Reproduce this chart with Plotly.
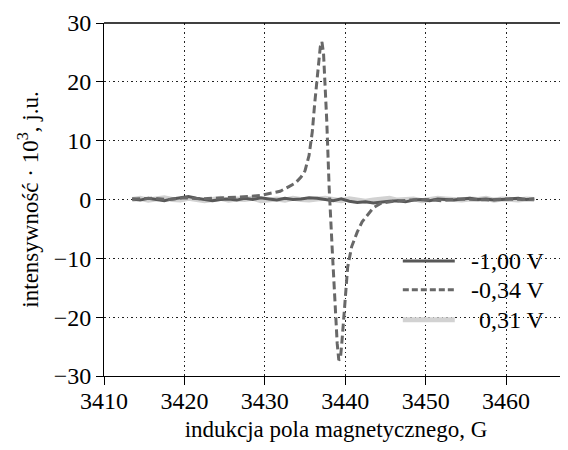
import plotly.graph_objects as go

# -1.00 V and 0.31 V: flat noisy baselines
base_x = [3413.5 + i for i in range(51)]
v100_y = [0.1, -0.1, 0.2, 0.0, -0.2, 0.1, 0.3, 0.5, 0.2, 0.0,
          -0.2, 0.0, 0.1, -0.1, 0.2, 0.0, 0.3, 0.1, -0.1, 0.2,
          0.0, 0.1, 0.3, 0.2, 0.0, -0.2, 0.1, -0.3, -0.5, -0.4,
          -0.6, -0.4, -0.3, -0.2, -0.4, -0.1, 0.0, -0.2, 0.1, 0.0,
          -0.1, 0.1, 0.2, 0.0, 0.1, -0.1, 0.0, 0.1, 0.2, 0.0, 0.1]
v031_y = [0.0, 0.2, -0.1, 0.1, 0.3, 0.0, -0.1, 0.2, 0.1, -0.2,
          0.0, 0.2, -0.1, 0.1, 0.0, 0.2, -0.2, 0.0, 0.1, -0.1,
          0.2, 0.0, -0.1, 0.1, 0.2, 0.0, -0.2, 0.1, 0.0, -0.3,
          -0.1, 0.0, 0.2, -0.1, 0.0, 0.1, -0.2, 0.0, 0.2, 0.1,
          0.0, -0.1, 0.1, 0.0, 0.2, -0.1, 0.1, 0.0, -0.1, 0.1, 0.0]

# -0.34 V: derivative EPR line
v034_x = [3413.5, 3416, 3418, 3420, 3422, 3424, 3426, 3428, 3429.5, 3430.6,
          3431.9, 3433.0, 3433.8, 3434.5, 3435.0, 3435.5, 3435.9, 3436.2, 3436.6, 3436.9,
          3437.1, 3437.3, 3437.7, 3438.0, 3438.4, 3438.6, 3438.8, 3439.0, 3439.2, 3439.4,
          3439.6, 3440.0, 3440.3, 3440.8, 3441.5, 3442.1, 3442.7, 3443.5, 3444.5, 3446,
          3448, 3450, 3452, 3454, 3456, 3458, 3460, 3462, 3463.5]
v034_y = [0.1, 0.2, 0.0, 0.3, 0.1, 0.2, 0.3, 0.5, 0.7, 1.0,
          1.4, 2.2, 2.8, 3.8, 4.9, 7.5, 11.5, 16.3, 22.5, 26.0,
          26.8, 24.8, 13.4, 2.0, -9.0, -14.5, -19.5, -24.5, -27.3, -27.0,
          -24.0, -17.6, -11.5, -8.0, -5.5, -3.8, -2.8, -1.4, -0.6, -0.3,
          -0.1, 0.0, -0.2, 0.1, 0.0, -0.1, 0.1, 0.0, 0.1]

series_names = ["-1,00 V", "-0,34 V", "0,31 V"]
series_colors = ["#585858", "#686868", "#d2d2d2"]
series_widths = [3, 3, 5]
series_dash = ["solid", "6px,3px", "solid"]

x_ticks = [3410, 3420, 3430, 3440, 3450, 3460]
y_ticks = [-30, -20, -10, 0, 10, 20, 30]

font = "Liberation Serif, Times New Roman, serif"

fig = go.Figure()
fig.add_trace(go.Scatter(x=base_x, y=v031_y, mode="lines", name=series_names[2],
                         line=dict(color=series_colors[2], width=series_widths[2])))
fig.add_trace(go.Scatter(x=base_x, y=v100_y, mode="lines", name=series_names[0],
                         line=dict(color=series_colors[0], width=series_widths[0])))
fig.add_trace(go.Scatter(x=v034_x, y=v034_y, mode="lines", name=series_names[1],
                         line=dict(color=series_colors[1], width=3, dash="8px,4px")))

# custom legend (paper coordinates)
leg_y = [0.326, 0.244, 0.159]
for i, name in enumerate(series_names):
    fig.add_shape(type="line", xref="paper", yref="paper",
                  x0=0.644, x1=0.756, y0=leg_y[i], y1=leg_y[i],
                  line=dict(color=series_colors[i], width=series_widths[i],
                            dash=series_dash[i]))
    fig.add_annotation(xref="paper", yref="paper", x=0.955, y=leg_y[i],
                       text=name, showarrow=False, xanchor="right", yanchor="middle",
                       font=dict(size=24, family=font, color="black"))

grid = dict(showgrid=True, gridcolor="#222222", griddash="1.5px,3px", gridwidth=1)

# page has 8px body margin -> compensate
fig.update_layout(
    width=560, height=442,
    margin=dict(l=96, r=0, t=15, b=74, autoexpand=False),
    paper_bgcolor="white", plot_bgcolor="white",
    font=dict(family=font, size=24, color="black"),
    showlegend=False,
    xaxis=dict(range=[3410, 3467.7], tickvals=x_ticks,
               showline=True, linecolor="black", linewidth=1, mirror=False,
               ticks="outside", ticklen=8, tickcolor="black",
               zeroline=False, tickfont=dict(size=24), ticklabelstandoff=-5,
               title=dict(text="indukcja pola magnetycznego, G", standoff=8,
                          font=dict(size=23)), **grid),
    yaxis=dict(range=[-30, 30], tickvals=y_ticks,
               showline=True, linecolor="black", linewidth=1,
               ticks="outside", ticklen=7, tickcolor="black",
               zeroline=False, tickfont=dict(size=24),
               title=dict(text="intensywność · 10<sup>3</sup>, j.u.", standoff=8,
                          font=dict(size=23)), **grid),
)
# top border line
fig.add_shape(type="line", xref="paper", yref="paper", x0=0, x1=1, y0=1, y1=1,
              line=dict(color="black", width=1.5))

fig.write_html("out.html")
